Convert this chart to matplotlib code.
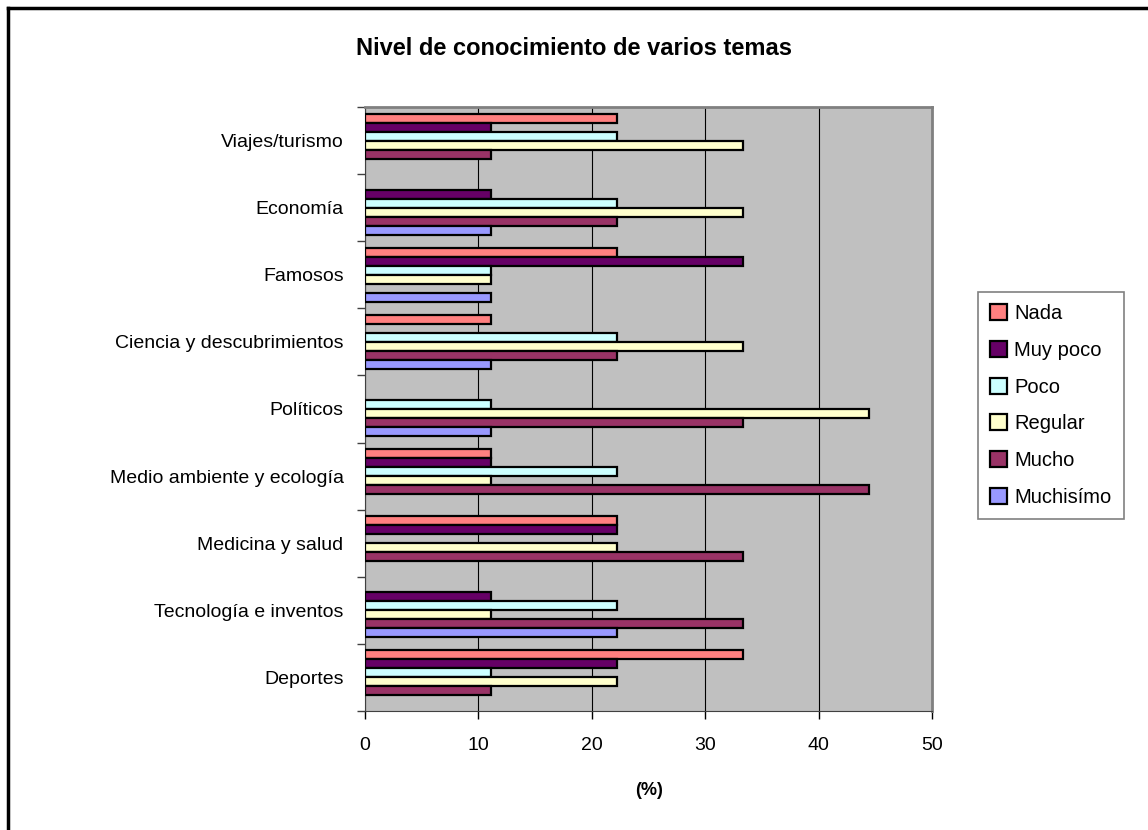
import numpy as np
import matplotlib.pyplot as plt

plt.rcParams['font.family'] = ['Liberation Sans', 'DejaVu Sans']

# categories, top to bottom as in the chart
temas = ['Viajes/turismo', 'Economía', 'Famosos', 'Ciencia y descubrimientos',
         'Políticos', 'Medio ambiente y ecología', 'Medicina y salud',
         'Tecnología e inventos', 'Deportes']

niveles = ['Nada', 'Muy poco', 'Poco', 'Regular', 'Mucho', 'Muchisímo']
colores = ['#FF8080', '#660066', '#CCFFFF', '#FFFFCC', '#993366', '#9999FF']

# % per tema (same order as temas)
nada      = [22.2, 0.0, 22.2, 11.1, 0.0, 11.1, 22.2, 0.0, 33.3]
muy_poco  = [11.1, 11.1, 33.3, 0.0, 0.0, 11.1, 22.2, 11.1, 22.2]
poco      = [22.2, 22.2, 11.1, 22.2, 11.1, 22.2, 0.0, 22.2, 11.1]
regular   = [33.3, 33.3, 11.1, 33.3, 44.4, 11.1, 22.2, 11.1, 22.2]
mucho     = [11.1, 22.2, 0.0, 22.2, 33.3, 44.4, 33.3, 33.3, 11.1]
muchisimo = [0.0, 11.1, 11.1, 11.1, 11.1, 0.0, 0.0, 22.2, 0.0]

series = [nada, muy_poco, poco, regular, mucho, muchisimo]

fig = plt.figure(figsize=(11.48, 8.3), dpi=100)
ax = fig.add_axes([0.318, 0.1434, 0.494, 0.7277])
ax.set_facecolor('#C0C0C0')

n = len(temas)
ypos = np.arange(n)[::-1]  # first tema on top
h = 0.134

for k, (vals, nom, col) in enumerate(zip(series, niveles, colores)):
    vals = np.array(vals)
    off = (2.5 - k) * h
    m = vals > 0  # excel draws nothing for 0
    ax.barh(ypos[m] + off, vals[m], height=h, color=col, edgecolor='black',
            linewidth=1.6, label=nom, zorder=3)

ax.set_xlim(0, 50)
ax.set_ylim(-0.5, n - 0.5)
ax.set_xticks(np.arange(0, 51, 10))
ax.xaxis.grid(True, color='black', linewidth=0.8, zorder=1)
ax.set_axisbelow(True)

ax.set_yticks(ypos)
ax.set_yticklabels(temas, fontsize=14)
ax.set_yticks(np.arange(-0.5, n, 1.0), minor=True)
ax.tick_params(axis='y', which='major', length=0, pad=15.5)
ax.tick_params(axis='y', which='minor', length=6, width=1, color='#404040')
ax.tick_params(axis='x', length=6, width=1, labelsize=14, pad=13)

for s in ['top', 'right']:
    ax.spines[s].set_color('#808080')
    ax.spines[s].set_linewidth(2)
ax.spines['left'].set_color('#404040')
ax.spines['bottom'].set_color('#404040')

ax.set_xlabel('(%)', fontsize=13, fontweight='bold', labelpad=20)

fig.text(0.5, 0.942, 'Nivel de conocimiento de varios temas', ha='center',
         va='center', fontsize=17, fontweight='bold')

leg = fig.legend(loc='upper left', bbox_to_anchor=(978 / 1148, 1 - 292 / 830),
                 fontsize=14.5, frameon=True, fancybox=False, borderpad=0.6,
                 labelspacing=0.88, handlelength=0.85, handleheight=0.85,
                 handletextpad=0.35, borderaxespad=0)
leg.get_frame().set_edgecolor('#606060')
leg.get_frame().set_linewidth(1.2)

# outer chart border (left and top visible)
fig.add_artist(plt.Line2D([8 / 1148, 8 / 1148], [0, 1 - 8 / 830],
                          transform=fig.transFigure, color='black', lw=2.5))
fig.add_artist(plt.Line2D([8 / 1148, 1], [1 - 8 / 830, 1 - 8 / 830],
                          transform=fig.transFigure, color='black', lw=2.5))

fig.savefig('out.png', dpi=100)
